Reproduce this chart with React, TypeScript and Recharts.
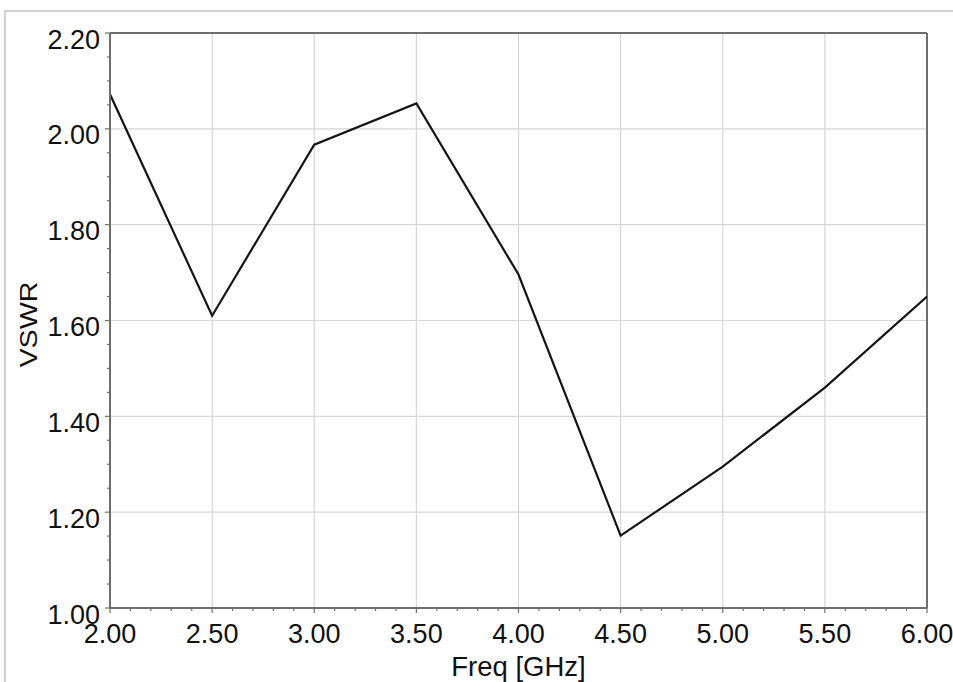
import React from "react";
import { LineChart, Line, XAxis, YAxis, ReferenceLine, Label } from "recharts";

const freqs = [2.0, 2.5, 3.0, 3.5, 4.0, 4.5, 5.0, 5.5, 6.0];
const vswr = [2.072, 1.61, 1.967, 2.053, 1.696, 1.151, 1.295, 1.46, 1.65];

const xMajor = [2.0, 2.5, 3.0, 3.5, 4.0, 4.5, 5.0, 5.5, 6.0];
const yMajor = [1.0, 1.2, 1.4, 1.6, 1.8, 2.0, 2.2];

// minor ticks: 4 between x majors, 3 between y majors
const subdivide = (major: number[], parts: number) => {
  const out: number[] = [];
  major.forEach((v, i) => {
    out.push(v);
    if (i < major.length - 1) {
      const step = (major[i + 1] - v) / parts;
      for (let k = 1; k < parts; k++) out.push(+(v + step * k).toFixed(4));
    }
  });
  return out;
};
const xTicks = subdivide(xMajor, 5);
const yTicks = subdivide(yMajor, 4);

const data = freqs.map((f, i) => ({ freq: f, vswr: vswr[i] }));

const FONT = "'Liberation Sans', Arial, sans-serif";
const AXIS = "#6e6e6e";
const GRID = "#d6d6d6";

const isMajor = (v: number, list: number[]) => list.some((m) => Math.abs(m - v) < 1e-6);

const XTick = (props: any) => {
  const { x, y, payload } = props;
  const major = isMajor(payload.value, xMajor);
  return (
    <g>
      <line x1={x} x2={x} y1={y} y2={y + (major ? 5 : 3)} stroke={AXIS} strokeWidth={1.2} />
      {major && (
        <text x={x} y={y + 35} textAnchor="middle" fontSize={27} fontFamily={FONT} fill="#111">
          {payload.value.toFixed(2)}
        </text>
      )}
    </g>
  );
};

const YTick = (props: any) => {
  const { x, y, payload } = props;
  const major = isMajor(payload.value, yMajor);
  return (
    <g>
      <line x1={x} x2={x - (major ? 5 : 3)} y1={y} y2={y} stroke={AXIS} strokeWidth={1.2} />
      {major && (
        <text x={x - 10} y={y + 15.5} textAnchor="end" fontSize={27} fontFamily={FONT} fill="#111">
          {payload.value.toFixed(2)}
        </text>
      )}
    </g>
  );
};

const YTitle = (props: any) => {
  const { viewBox } = props;
  const cx = viewBox.x + 28;
  const cy = viewBox.y + viewBox.height / 2 + 4;
  return (
    <text
      x={cx}
      y={cy}
      transform={`rotate(-90 ${cx} ${cy})`}
      textAnchor="middle"
      dominantBaseline="central"
      fontSize={24}
      fontFamily={FONT}
      fill="#111"
      textLength={86}
      lengthAdjust="spacingAndGlyphs"
    >
      VSWR
    </text>
  );
};

const XTitle = (props: any) => {
  const { viewBox } = props;
  const cx = viewBox.x + viewBox.width / 2;
  return (
    <text x={cx} y={676} textAnchor="middle" fontSize={27.5} fontFamily={FONT} fill="#111">
      Freq [GHz]
    </text>
  );
};

export default function App() {
  return (
    <div style={{ position: "absolute", left: 0, top: 0, width: 953, height: 682, background: "#fff", overflow: "hidden" }}>
      <div
        style={{
          position: "absolute",
          left: 4,
          top: 10,
          width: 1000,
          height: 800,
          borderTop: "2px solid #d0d0d0",
          borderLeft: "2px solid #d0d0d0",
        }}
      />
      <div style={{ position: "absolute", left: 0, top: 0 }}>
        <LineChart width={953} height={682} data={data} margin={{ top: 33, right: 26, left: 0, bottom: 0 }}>
          {xMajor.map((v) => (
            <ReferenceLine key={"vx" + v} x={v} stroke={GRID} strokeWidth={1.2} />
          ))}
          {yMajor.map((v) => (
            <ReferenceLine key={"hy" + v} y={v} stroke={GRID} strokeWidth={1.2} />
          ))}
          <ReferenceLine y={2.2} stroke={AXIS} strokeWidth={2} />
          <ReferenceLine x={6.0} stroke={AXIS} strokeWidth={2} />
          <XAxis
            dataKey="freq"
            type="number"
            domain={[2, 6]}
            ticks={xTicks}
            interval={0}
            tick={<XTick />}
            tickLine={false}
            tickSize={0}
            tickMargin={0}
            height={74}
            axisLine={{ stroke: AXIS, strokeWidth: 2 }}
            allowDataOverflow
          >
            <Label content={<XTitle />} />
          </XAxis>
          <YAxis
            type="number"
            domain={[1, 2.2]}
            ticks={yTicks}
            interval={0}
            tick={<YTick />}
            tickLine={false}
            tickSize={0}
            tickMargin={0}
            width={110}
            axisLine={{ stroke: AXIS, strokeWidth: 2 }}
            allowDataOverflow
          >
            <Label content={<YTitle />} />
          </YAxis>
          <Line
            type="linear"
            dataKey="vswr"
            stroke="#151515"
            strokeWidth={2.2}
            dot={false}
            isAnimationActive={false}
          />
        </LineChart>
      </div>
    </div>
  );
}
